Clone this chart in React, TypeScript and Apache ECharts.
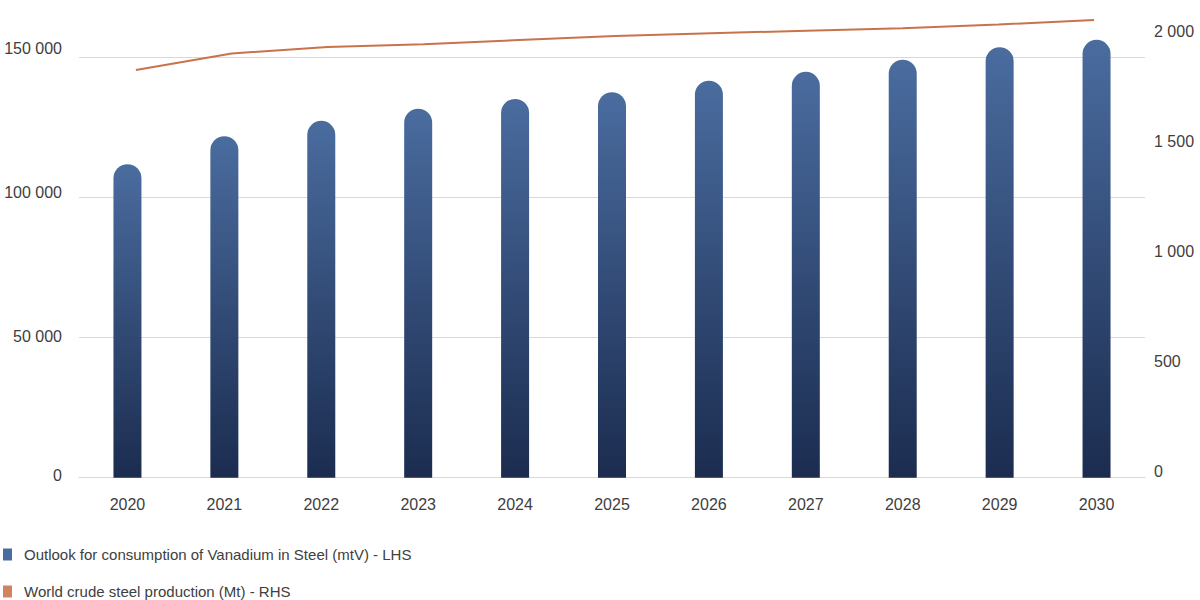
import React, { useEffect, useRef } from "react";
import * as echarts from "echarts";

const years = ["2020", "2021", "2022", "2023", "2024", "2025", "2026", "2027", "2028", "2029", "2030"];
const vanadiumConsumption = [111900, 121900, 127400, 131700, 135200, 137600, 141700, 144900, 149200, 153700, 156300];
const crudeSteelProduction = [1853, 1928, 1958, 1970, 1989, 2008, 2020, 2032, 2043, 2060, 2080];
const leftTicks = [0, 50000, 100000, 150000];
const rightTicks = [0, 500, 1000, 1500, 2000];
const barName = "Outlook for consumption of Vanadium in Steel (mtV) - LHS";
const lineName = "World crude steel production (Mt) - RHS";

const FONT = "Liberation Sans, Arial, sans-serif";
const TEXT = "#404040";

const spaceFmt = (v: number) =>
  String(Math.round(v)).replace(/\B(?=(\d{3})+(?!\d))/g, " ");

export default function App() {
  const ref = useRef<HTMLDivElement>(null);
  useEffect(() => {
    if (!ref.current) return;
    const chart = echarts.init(ref.current, undefined, { renderer: "svg" });
    const labelRich = (shifts: number[]) => {
      const rich: Record<string, any> = {};
      shifts.forEach((s, i) => {
        rich["l" + i] = {
          color: TEXT,
          fontSize: 16,
          fontFamily: FONT,
          padding: [0, 0, s * 2, 0],
        };
      });
      return rich;
    };
    const leftShift = [2, 1, 5, 9];
    const rightShift = [6, 6, 6, 6, 6];
    chart.setOption({
      animation: false,
      backgroundColor: "#ffffff",
      textStyle: { fontFamily: FONT },
      legend: [
        {
          left: 3,
          top: 547,
          padding: 0,
          orient: "vertical",
          icon: "rect",
          itemWidth: 9,
          itemHeight: 12,
          textStyle: { color: TEXT, fontSize: 15, fontFamily: FONT, padding: [0, 0, 0, 7] },
          data: [{ name: barName, itemStyle: { color: "#4a6c9f" } }],
        },
        {
          left: 3,
          top: 584,
          padding: 0,
          orient: "vertical",
          icon: "rect",
          itemWidth: 9,
          itemHeight: 12,
          textStyle: { color: TEXT, fontSize: 15, fontFamily: FONT, padding: [0, 0, 0, 7] },
          data: [{ name: lineName, itemStyle: { color: "#cf8360", borderWidth: 0 } }],
        },
      ],
      grid: [
        { left: 79, right: 55, top: 57.5, bottom: 122.3 },
        { left: 88, right: 58, top: 37.7, bottom: 122.3 },
      ],
      xAxis: [
        {
          type: "category",
          gridIndex: 0,
          data: years,
          axisLine: { show: true, lineStyle: { color: "#d9d9d9", width: 1 } },
          axisTick: { show: false },
          axisLabel: { color: TEXT, fontSize: 16, margin: 19, fontFamily: FONT },
        },
        {
          type: "category",
          gridIndex: 1,
          data: years,
          show: false,
        },
      ],
      yAxis: [
        {
          type: "value",
          gridIndex: 0,
          min: leftTicks[0],
          max: leftTicks[leftTicks.length - 1],
          interval: leftTicks[1] - leftTicks[0],
          axisLine: { show: false },
          axisTick: { show: false },
          splitLine: { lineStyle: { color: "#d9d9d9", width: 1 } },
          axisLabel: {
            margin: 17,
            formatter: (v: number) => {
              const i = leftTicks.indexOf(v);
              return `{l${i < 0 ? 0 : i}|${spaceFmt(v)}}`;
            },
            rich: labelRich(leftShift),
          },
        },
        {
          type: "value",
          gridIndex: 1,
          position: "right",
          min: rightTicks[0],
          max: rightTicks[rightTicks.length - 1],
          interval: rightTicks[1] - rightTicks[0],
          axisLine: { show: false },
          axisTick: { show: false },
          splitLine: { show: false },
          axisLabel: {
            margin: 12,
            formatter: (v: number) => {
              const i = rightTicks.indexOf(v);
              return `{l${i < 0 ? 0 : i}|${spaceFmt(v)}}`;
            },
            rich: labelRich(rightShift),
          },
        },
      ],
      series: [
        {
          name: barName,
          type: "bar",
          xAxisIndex: 0,
          yAxisIndex: 0,
          data: vanadiumConsumption,
          clip: false,
          barWidth: 28,
          itemStyle: {
            borderRadius: [14, 14, 0, 0],
            color: new echarts.graphic.LinearGradient(0, 0, 0, 1, [
              { offset: 0, color: "#4a6c9f" },
              { offset: 1, color: "#1b2c4f" },
            ]),
          },
        },
        {
          name: lineName,
          type: "line",
          xAxisIndex: 1,
          yAxisIndex: 1,
          data: crudeSteelProduction,
          clip: false,
          symbol: "none",
          lineStyle: { color: "#c8734b", width: 2 },
          itemStyle: { color: "#c8734b" },
        },
      ],
    });
    return () => chart.dispose();
  }, []);
  return (
    <div
      ref={ref}
      style={{ position: "absolute", left: 0, top: 0, width: 1200, height: 600 }}
    />
  );
}
